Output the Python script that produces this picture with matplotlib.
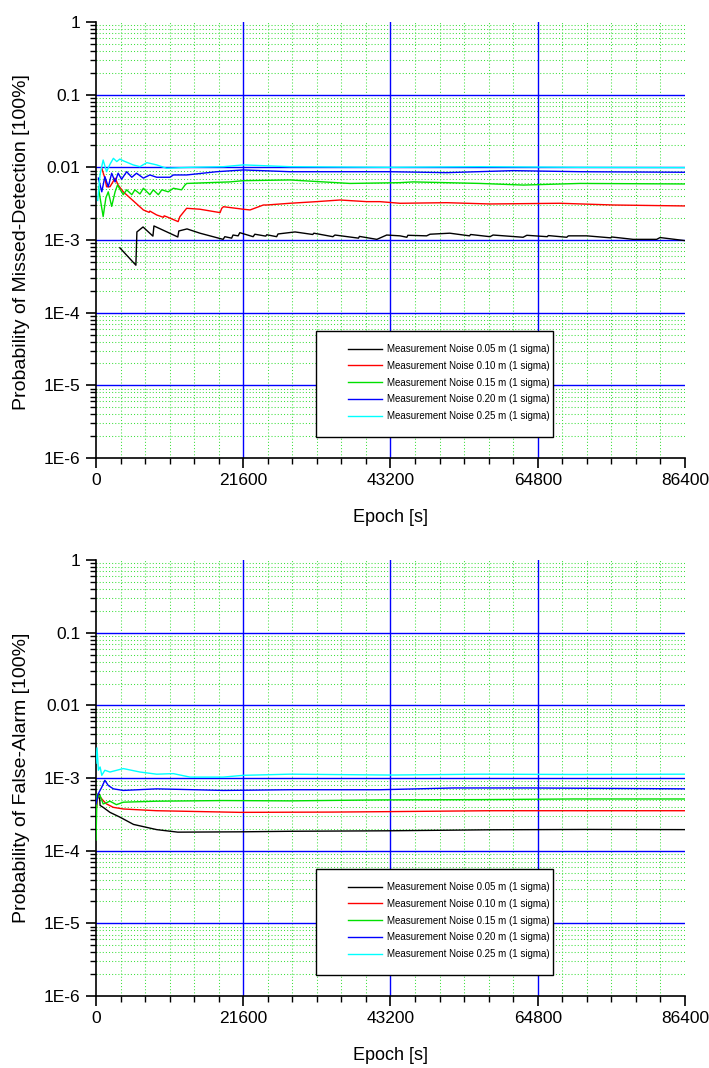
import numpy as np
import matplotlib
matplotlib.use("Agg")
import matplotlib.pyplot as plt
from matplotlib.ticker import FixedLocator, FixedFormatter, MultipleLocator, LogLocator, NullFormatter
from matplotlib.patches import Rectangle

plt.rcParams['font.family'] = ['Liberation Sans', 'DejaVu Sans']

labels = ["Measurement Noise 0.05 m (1 sigma)",
          "Measurement Noise 0.10 m (1 sigma)",
          "Measurement Noise 0.15 m (1 sigma)",
          "Measurement Noise 0.20 m (1 sigma)",
          "Measurement Noise 0.25 m (1 sigma)"]
colors = ['black', '#ff0000', '#00e000', '#0000ff', '#00ffff']

x_ticks = [0, 21600, 43200, 64800, 86400]
y_ticks = [1e-6, 1e-5, 1e-4, 1e-3, 1e-2, 1e-1, 1]
y_tick_labels = ['1E-6', '1E-5', '1E-4', '1E-3', '0.01', '0.1', '1']

# ---- Missed detection (top) ----
md_t1 = [3500, 5850, 6000, 6900, 8350, 8500, 12000, 12150, 13350, 15250, 18650, 18900, 19900, 20100,
         20850, 21100, 23050, 23300, 24900, 25050, 26500, 26700, 29200, 31800, 31950, 34750, 35050,
         38500, 38650, 41200, 42650, 44600, 45600, 45750, 48500, 49000, 51900, 54800, 54950, 57800,
         58250, 62650, 63200, 66200, 66350, 69050, 69300, 72000, 75500, 75650, 78800, 82250, 82750,
         86400]
md_p1 = [7.8e-4, 4.5e-4, 1.29e-3, 1.51e-3, 1.13e-3, 1.56e-3, 1.10e-3, 1.33e-3, 1.42e-3, 1.24e-3,
         1.02e-3, 1.11e-3, 1.06e-3, 1.17e-3, 1.14e-3, 1.26e-3, 1.11e-3, 1.20e-3, 1.13e-3, 1.18e-3,
         1.11e-3, 1.21e-3, 1.29e-3, 1.19e-3, 1.24e-3, 1.11e-3, 1.17e-3, 1.06e-3, 1.12e-3, 1.02e-3,
         1.17e-3, 1.14e-3, 1.09e-3, 1.16e-3, 1.14e-3, 1.20e-3, 1.24e-3, 1.14e-3, 1.19e-3, 1.11e-3,
         1.17e-3, 1.09e-3, 1.16e-3, 1.11e-3, 1.15e-3, 1.09e-3, 1.14e-3, 1.14e-3, 1.07e-3, 1.10e-3,
         1.02e-3, 1.02e-3, 1.08e-3, 9.8e-4]

md_t2 = [800, 1300, 1550, 2050, 2800, 3250, 4000, 6950, 7800, 7900, 8900, 9900, 10000, 10350, 12050,
         12300, 13300, 15250, 18200, 18450, 18700, 21600, 22600, 24550, 25050, 28450, 32350, 35800,
         39700, 41650, 44600, 51450, 57800, 68050, 75900, 86400]
md_p2 = [1.0e-2, 7.1e-3, 5.4e-3, 5.4e-3, 7.1e-3, 5.7e-3, 4.6e-3, 2.59e-3, 2.4e-3, 2.5e-3, 2.21e-3,
         2.05e-3, 2.15e-3, 2.09e-3, 1.79e-3, 2.09e-3, 2.73e-3, 2.65e-3, 2.38e-3, 2.73e-3, 2.87e-3,
         2.65e-3, 2.59e-3, 3.03e-3, 3.03e-3, 3.20e-3, 3.37e-3, 3.55e-3, 3.37e-3, 3.37e-3, 3.20e-3,
         3.26e-3, 3.13e-3, 3.20e-3, 3.03e-3, 2.94e-3]

md_t3 = [350, 600, 1050, 1450, 1800, 2300, 2800, 3150, 4000, 4500, 5250, 5700, 6450, 6950, 7900, 8400,
         9150, 9650, 10600, 11350, 12550, 13050, 13300, 19650, 21600, 28450, 37250, 44600, 46500,
         56350, 62700, 71000, 86400]
md_p3 = [5.4e-3, 3.8e-3, 2.1e-3, 3.8e-3, 4.6e-3, 2.9e-3, 4.6e-3, 5.7e-3, 4.2e-3, 4.9e-3, 4.2e-3,
         4.9e-3, 4.3e-3, 5.15e-3, 4.2e-3, 4.9e-3, 4.2e-3, 4.9e-3, 4.6e-3, 5.15e-3, 4.9e-3, 5.7e-3,
         6.0e-3, 6.3e-3, 6.55e-3, 6.7e-3, 6.0e-3, 6.15e-3, 6.3e-3, 6.0e-3, 5.7e-3, 6.0e-3, 5.9e-3]

md_t4 = [350, 850, 1300, 1800, 2300, 2800, 3250, 3750, 4500, 5250, 5950, 6950, 7900, 8900, 10850,
         11350, 13300, 17700, 21600, 28450, 43150, 51450, 61200, 71000, 86400]
md_p4 = [7.1e-3, 4.6e-3, 7.45e-3, 5.4e-3, 8.3e-3, 6.3e-3, 8.3e-3, 6.85e-3, 8.7e-3, 7.3e-3, 8.3e-3,
         7.1e-3, 7.85e-3, 7.3e-3, 7.3e-3, 7.85e-3, 7.85e-3, 8.7e-3, 9.2e-3, 8.7e-3, 8.7e-3, 8.45e-3,
         9.0e-3, 8.7e-3, 8.55e-3]

md_t5 = [250, 600, 1050, 1550, 2050, 2550, 3050, 3500, 4000, 5450, 6450, 7450, 8900, 10350, 13800,
         18700, 21600, 28450, 43150, 56350, 71000, 86400]
md_p5 = [3.5e-3, 8.0e-3, 1.26e-2, 8.7e-3, 1.1e-2, 1.33e-2, 1.2e-2, 1.3e-2, 1.23e-2, 1.08e-2, 1.02e-2,
         1.16e-2, 1.08e-2, 9.7e-3, 1.0e-2, 1.02e-2, 1.08e-2, 1.02e-2, 1.0e-2, 1.02e-2, 1.0e-2, 9.9e-3]

# ---- False alarm (bottom) ----
fa_t1 = [150, 500, 600, 1050, 2050, 3500, 5500, 8900, 12000, 21600, 28450, 43150, 57800, 72000, 86400]
fa_p1 = [5.0e-4, 6.0e-4, 4.2e-4, 3.95e-4, 3.37e-4, 2.9e-4, 2.3e-4, 1.95e-4, 1.8e-4, 1.82e-4, 1.85e-4,
         1.88e-4, 1.94e-4, 1.96e-4, 1.95e-4]

fa_t2 = [100, 300, 600, 1050, 1550, 2550, 4000, 8900, 21100, 34750, 43150, 57800, 72000, 86400]
fa_p2 = [4.0e-4, 6.0e-4, 5.5e-4, 4.9e-4, 4.4e-4, 3.95e-4, 3.75e-4, 3.55e-4, 3.37e-4, 3.4e-4, 3.45e-4,
         3.55e-4, 3.55e-4, 3.55e-4]

fa_t3 = [0, 150, 350, 600, 1050, 2050, 3000, 4000, 8900, 18650, 28450, 41650, 56350, 70000, 86400]
fa_p3 = [1.4e-4, 6.0e-4, 5.45e-4, 5.75e-4, 4.4e-4, 4.8e-4, 4.3e-4, 4.65e-4, 4.8e-4, 4.9e-4, 4.85e-4,
         5.0e-4, 5.05e-4, 5.15e-4, 5.15e-4]

fa_t4 = [0, 300, 850, 1300, 1800, 2550, 4000, 8900, 18650, 28450, 41650, 52400, 63700, 86400]
fa_p4 = [4.4e-4, 6.0e-4, 7.5e-4, 9.3e-4, 7.9e-4, 7.1e-4, 6.75e-4, 7.1e-4, 6.75e-4, 6.9e-4, 6.9e-4,
         7.3e-4, 7.3e-4, 7.1e-4]

fa_t5 = [0, 150, 350, 600, 850, 1300, 2050, 4000, 6450, 8900, 11350, 13800, 18650, 21600, 28450,
         43150, 56350, 70000, 86400]
fa_p5 = [1.6e-3, 2.6e-3, 1.28e-3, 1.42e-3, 1.09e-3, 1.28e-3, 1.21e-3, 1.35e-3, 1.21e-3, 1.13e-3,
         1.15e-3, 1.03e-3, 1.03e-3, 1.09e-3, 1.13e-3, 1.10e-3, 1.13e-3, 1.12e-3, 1.13e-3]


def draw_panel(ax, series, ylabel, fig, label_y):
    # grid first
    ax.set_axisbelow(True)
    ax.grid(which='minor', color='#40e040', linestyle=(0, (1, 2)), linewidth=0.75)
    for yv in y_ticks[1:-1]:
        ax.axhline(yv, color='#0000ff', linewidth=1.0, zorder=1)
    for xv in x_ticks[1:-1]:
        ax.axvline(xv, color='#0000ff', linewidth=1.0, zorder=1)

    handles = []
    for (t, p), c in zip(series, colors):
        h, = ax.plot(t, p, color=c, linewidth=1.0, zorder=3)
        handles.append(h)

    ax.set_yscale('log')
    ax.set_xlim(0, 86400)
    ax.set_ylim(1e-6, 1)
    ax.xaxis.set_major_locator(FixedLocator(x_ticks))
    ax.xaxis.set_minor_locator(MultipleLocator(3600))
    ax.yaxis.set_major_locator(FixedLocator(y_ticks))
    ax.yaxis.set_major_formatter(FixedFormatter(y_tick_labels))
    ax.yaxis.set_minor_locator(LogLocator(base=10, subs=np.arange(2, 10)))
    ax.yaxis.set_minor_formatter(NullFormatter())

    for s in ['top', 'right']:
        ax.spines[s].set_visible(False)
    for s in ['left', 'bottom']:
        ax.spines[s].set_linewidth(1.2)
    ax.tick_params(which='major', direction='out', length=7, width=1.2, labelsize=12.5, pad=4)
    ax.tick_params(which='minor', direction='out', length=4, width=1.0)

    ax.set_xlabel('Epoch [s]', fontsize=13, labelpad=15)
    fig.text(22 / 709, label_y, ylabel, rotation=90, ha='center', va='center', fontsize=14)

    # legend box
    ax.add_patch(Rectangle((0.3735, 0.048), 0.4025, 0.243, transform=ax.transAxes,
                           facecolor='white', edgecolor='black', linewidth=1.0,
                           zorder=4, clip_on=False))
    leg = ax.legend(handles, labels, loc='upper left', bbox_to_anchor=(0.428, 0.2615),
                    frameon=False, fontsize=7, handlelength=3.5, handletextpad=0.5,
                    labelspacing=0.7, borderpad=0, borderaxespad=0)
    leg.set_zorder(5)
    for line in leg.get_lines():
        line.set_linewidth(1.0)


fig = plt.figure(figsize=(7.09, 10.68), dpi=100)
ax1 = fig.add_axes([0.1354, 0.5712, 0.8307, 0.4082])
ax2 = fig.add_axes([0.1354, 0.0674, 0.8307, 0.4082])

draw_panel(ax1, [(md_t1, md_p1), (md_t2, md_p2), (md_t3, md_p3), (md_t4, md_p4), (md_t5, md_p5)],
           'Probability of Missed-Detection [100%]', fig, 1 - 242 / 1068)
draw_panel(ax2, [(fa_t1, fa_p1), (fa_t2, fa_p2), (fa_t3, fa_p3), (fa_t4, fa_p4), (fa_t5, fa_p5)],
           'Probability of False-Alarm [100%]', fig, 1 - 778 / 1068)

fig.savefig('out.png', dpi=100)
